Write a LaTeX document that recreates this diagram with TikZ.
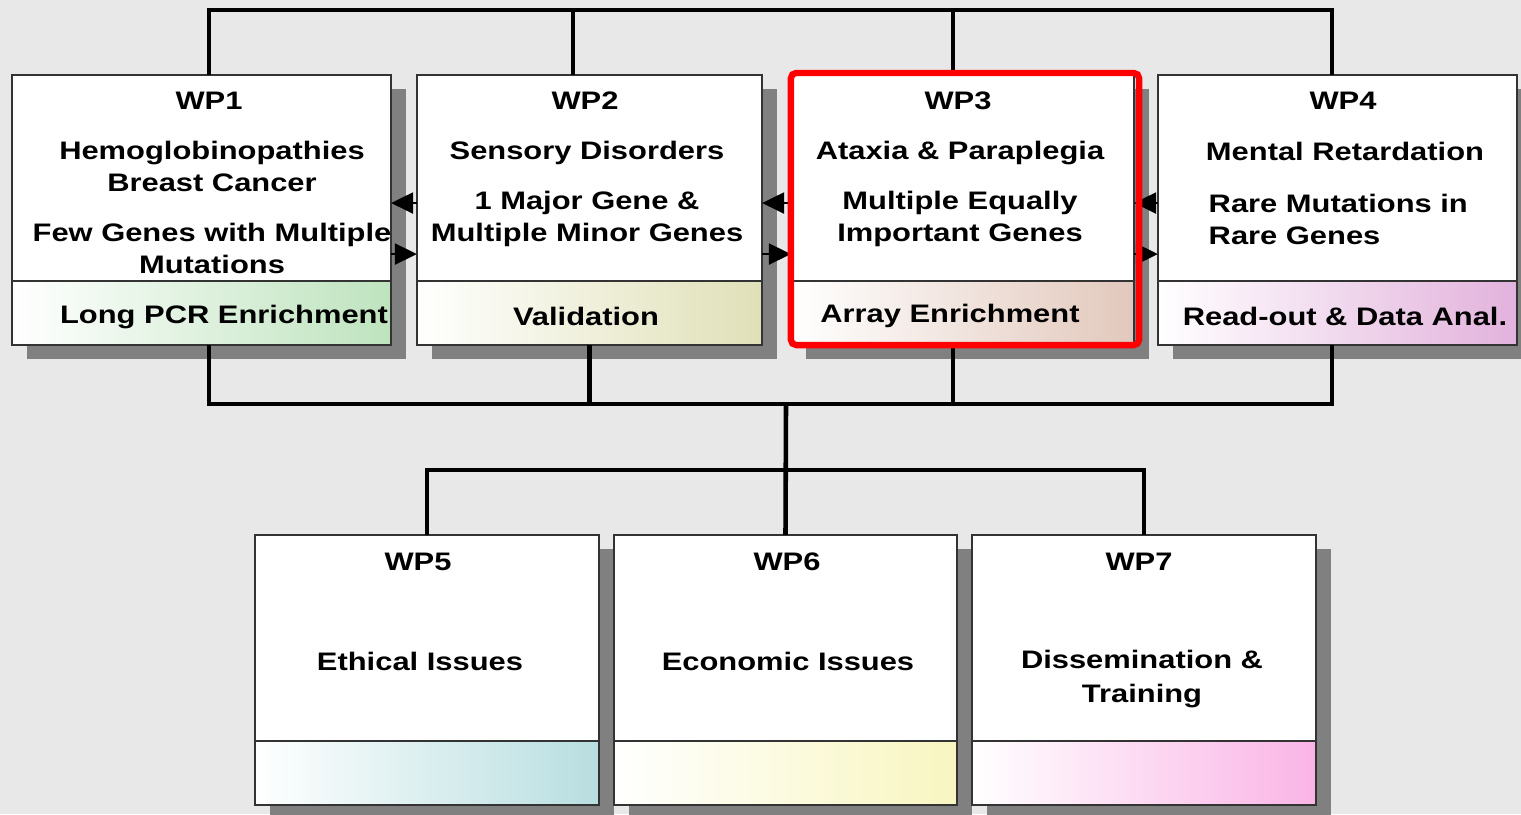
\documentclass[tikz,border=0pt]{standalone}
\usepackage{fontspec}
\setmainfont{Liberation Sans}[FakeStretch=1.22]
\usetikzlibrary{arrows.meta,positioning,backgrounds}

\definecolor{bggray}{HTML}{E8E8E8}
\definecolor{shadegray}{HTML}{808080}
\definecolor{wpgreen}{HTML}{BEE3BE}
\definecolor{wpolive}{HTML}{E0E0B8}
\definecolor{wptan}{HTML}{E2C8BC}
\definecolor{wplilac}{HTML}{E2B2DC}
\definecolor{wpteal}{HTML}{B8DEE0}
\definecolor{wpyellow}{HTML}{F8F6C0}
\definecolor{wppink}{HTML}{FAB4E6}

\begin{document}
\begin{tikzpicture}[
  x = 0.01cm, y = -0.01cm,
  > = {Triangle[length=0.22cm, width=0.21cm]},
  wpbox/.style = {rectangle, draw=black!80, fill=white, line width=0.7pt,
                  inner sep=0pt, outer sep=0pt},
  wpband/.style = {wpbox, left color=white, right color=#1},
  wptext/.style = {align=center, inner sep=0pt,
                   font=\bfseries\fontsize{7.2}{9.1}\selectfont},
  link/.style = {line width=1.3pt},
  flow/.style = {->, line width=0.6pt},
  hilite/.style = {rectangle, draw=red, line width=1.8pt, rounded corners=1.5pt}
]
\useasboundingbox (0,0) rectangle (1521,814);

\node[wpbox, minimum width=3.79cm, minimum height=2.06cm] (wp1) at (201.5,178) {};
\node[wpband=wpgreen, minimum width=3.79cm, minimum height=0.64cm, below=0pt of wp1] (wp1b) {};
\node[wpbox, minimum width=3.45cm, minimum height=2.06cm] (wp2) at (589.5,178) {};
\node[wpband=wpolive, minimum width=3.45cm, minimum height=0.64cm, below=0pt of wp2] (wp2b) {};
\node[wpbox, minimum width=3.43cm, minimum height=2.06cm] (wp3) at (962.5,178) {};
\node[wpband=wptan, minimum width=3.43cm, minimum height=0.64cm, below=0pt of wp3] (wp3b) {};
\node[wpbox, minimum width=3.59cm, minimum height=2.06cm] (wp4) at (1337.5,178) {};
\node[wpband=wplilac, minimum width=3.59cm, minimum height=0.64cm, below=0pt of wp4] (wp4b) {};

\node[wpbox, minimum width=3.44cm, minimum height=2.06cm] (wp5) at (427,638) {};
\node[wpband=wpteal, minimum width=3.44cm, minimum height=0.64cm, below=0pt of wp5] (wp5b) {};
\node[wpbox, minimum width=3.43cm, minimum height=2.06cm] (wp6) at (785.5,638) {};
\node[wpband=wpyellow, minimum width=3.43cm, minimum height=0.64cm, below=0pt of wp6] (wp6b) {};
\node[wpbox, minimum width=3.44cm, minimum height=2.06cm] (wp7) at (1144,638) {};
\node[wpband=wppink, minimum width=3.44cm, minimum height=0.64cm, below=0pt of wp7] (wp7b) {};

\node[wptext] (wp1t) at (209,101) {WP1};
\node[wptext] (wp1x) at (212,207) {Hemoglobinopathies\\Breast Cancer\\[5.1pt]Few Genes with Multiple\\Mutations};
\node[wptext] (wp1y) at (224,317) {Long PCR Enrichment};
\node[wptext] (wp2t) at (585,101) {WP2};
\node[wptext] (wp2x) at (587,194) {Sensory Disorders\\[5.1pt]1 Major Gene \&\\Multiple Minor Genes};
\node[wptext] (wp2y) at (586,316) {Validation};
\node[wptext] (wp3t) at (958,101) {WP3};
\node[wptext] (wp3x) at (960,194) {Ataxia \& Paraplegia\\[5.1pt]Multiple Equally\\Important Genes};
\node[wptext] (wp3y) at (950,316) {Array Enrichment};
\node[wptext] (wp4t) at (1343,101) {WP4};
\node[wptext] (wp4h) at (1345,151) {Mental Retardation};
\node[wptext, align=left, anchor=west] (wp4x) at (1208,219) {Rare Mutations in\\Rare Genes};
\node[wptext] (wp4y) at (1345,316) {Read-out \& Data Anal.};

\node[wptext] (wp5t) at (418,562) {WP5};
\node[wptext] (wp5x) at (420,661) {Ethical Issues};
\node[wptext] (wp6t) at (787,562) {WP6};
\node[wptext] (wp6x) at (788,661) {Economic Issues};
\node[wptext] (wp7t) at (1139,562) {WP7};
\node[wptext] (wp7x) at (1142,679) {Dissemination \&\\[0.6pt]Training};

\coordinate (topbus) at (700,10);
\coordinate (midbus) at (786,404);
\coordinate (lowbus) at (786,470);

\draw[link] ([xshift=0.075cm]wp1.north) |- (topbus) -| ([xshift=-0.055cm]wp4.north);
\draw[link] ([xshift=-0.165cm]wp2.north) -- ([xshift=-0.165cm]wp2.north |- topbus);
\draw[link] ([xshift=-0.095cm]wp3.north) -- ([xshift=-0.095cm]wp3.north |- topbus);

\draw[link] ([xshift=0.075cm]wp1b.south) |- (midbus) -| ([xshift=-0.055cm]wp4b.south);
\draw[link] (wp2b.south) -- (wp2b.south |- midbus);
\draw[link] ([xshift=-0.095cm]wp3b.south) -- ([xshift=-0.095cm]wp3b.south |- midbus);
\draw[link] (midbus) -- (wp6.north);
\draw[link] (wp5.north) |- (lowbus) -| (wp7.north);

\draw[flow] ([yshift=-0.25cm]wp2.west) -- ([yshift=-0.25cm]wp1.east);
\draw[flow] ([yshift=-0.76cm]wp1.east) -- ([yshift=-0.76cm]wp2.west);
\draw[flow] ([yshift=-0.25cm]wp3.west) -- ([yshift=-0.25cm]wp2.east);
\draw[flow] ([yshift=-0.76cm]wp2.east) -- ([yshift=-0.76cm]wp3.west);
\draw[flow] ([yshift=-0.25cm]wp4.west) -- ([yshift=-0.25cm]wp3.east);
\draw[flow] ([yshift=-0.76cm]wp3.east) -- ([yshift=-0.76cm]wp4.west);

\node[hilite, minimum width=3.48cm, minimum height=2.72cm] (wp3mark) at (965,209) {};

\begin{pgfonlayer}{background}
  \fill[bggray] (0,0) rectangle (1521,814);
  \foreach \w in {wp1,wp2,wp3,wp4,wp5,wp6,wp7}
    \fill[shadegray] ([shift={(0.15cm,-0.14cm)}]\w.north west)
      rectangle ([shift={(0.15cm,-0.14cm)}]\w b.south east);
\end{pgfonlayer}
\end{tikzpicture}
\end{document}
